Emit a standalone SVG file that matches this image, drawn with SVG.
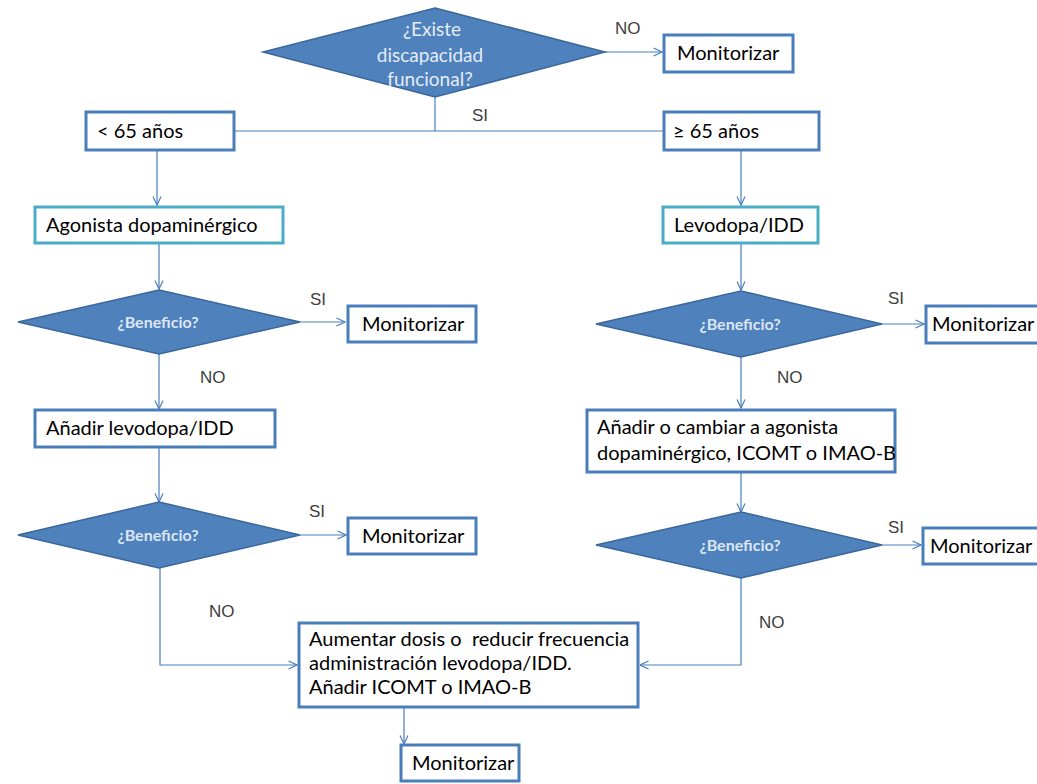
<svg xmlns="http://www.w3.org/2000/svg" width="1037" height="784" viewBox="0 0 1037 784">
  <style>
    .box { fill: #ffffff; stroke: #4a7ebb; stroke-width: 3; }
    .tbox { fill: #ffffff; stroke: #4bacc6; stroke-width: 3; }
    .dia { fill: #4f81bd; stroke: #3a679c; stroke-width: 1.5; }
    .t { font-family: Lato, "Open Sans", sans-serif; font-size: 20px; fill: #000; }
    .dt { font-family: Lato, "Open Sans", sans-serif; font-size: 16px; font-weight: bold; fill: #dce6f2; text-anchor: middle; }
    .dt2 { font-family: Lato, "Open Sans", sans-serif; font-size: 19px; fill: #e4ecf7; text-anchor: middle; }
    .lab { font-family: "Liberation Sans", Arial, sans-serif; font-size: 17px; fill: #404040; }
    .c { fill: none; stroke: #4a7ebb; stroke-width: 1.2; }
  </style>
  <defs>
    <marker id="arr" viewBox="0 0 10 10" refX="9.5" refY="5" markerWidth="10" markerHeight="10" markerUnits="userSpaceOnUse" orient="auto">
      <path d="M1,1 L9.5,5 L1,9" fill="none" stroke="#4a7ebb" stroke-width="1.2"/>
    </marker>
  </defs>
  <rect width="1037" height="784" fill="#ffffff"/>

  <g id="connectors">
    <path class="c" d="M605,52 H662" marker-end="url(#arr)"/>
    <path class="c" d="M435,97 V131"/>
    <path class="c" d="M235,131 H663"/>
    <path class="c" d="M157,150 V205" marker-end="url(#arr)"/>
    <path class="c" d="M741,150 V205" marker-end="url(#arr)"/>
    <path class="c" d="M159,244 V289" marker-end="url(#arr)"/>
    <path class="c" d="M741,244 V290" marker-end="url(#arr)"/>
    <path class="c" d="M300,322 H345" marker-end="url(#arr)"/>
    <path class="c" d="M882,324 H924" marker-end="url(#arr)"/>
    <path class="c" d="M159,354 V409" marker-end="url(#arr)"/>
    <path class="c" d="M741,357 V408" marker-end="url(#arr)"/>
    <path class="c" d="M159,447 V502" marker-end="url(#arr)"/>
    <path class="c" d="M741,473 V512" marker-end="url(#arr)"/>
    <path class="c" d="M300,535 H346" marker-end="url(#arr)"/>
    <path class="c" d="M882,545 H921" marker-end="url(#arr)"/>
    <path class="c" d="M160,568 V665 H297" marker-end="url(#arr)"/>
    <path class="c" d="M741,578 V665 H640" marker-end="url(#arr)"/>
    <path class="c" d="M404,708 V744" marker-end="url(#arr)"/>
  </g>

  <g id="labels">
    <text class="lab" x="615" y="34">NO</text>
    <text class="lab" x="472" y="121">SI</text>
    <text class="lab" x="310" y="305">SI</text>
    <text class="lab" x="200" y="383">NO</text>
    <text class="lab" x="309" y="517">SI</text>
    <text class="lab" x="209" y="617">NO</text>
    <text class="lab" x="888" y="304">SI</text>
    <text class="lab" x="777" y="383">NO</text>
    <text class="lab" x="888" y="533">SI</text>
    <text class="lab" x="759" y="628">NO</text>
  </g>

  <g id="q-discapacidad">
    <polygon class="dia" points="435,8 605,52 435,97 263,52"/>
    <text class="dt2" x="432" y="36">¿Existe</text>
    <text class="dt2" x="430" y="62">discapacidad</text>
    <text class="dt2" x="430" y="86">funcional?</text>
  </g>
  <g id="mon-top">
    <rect class="box" x="664" y="35" width="129" height="37"/>
    <text class="t" x="677" y="60">Monitorizar</text>
  </g>

  <g id="menor65">
    <rect class="box" x="86" y="112" width="148" height="38"/>
    <text class="t" x="97" y="138">&lt; 65 años</text>
  </g>
  <g id="mayor65">
    <rect class="box" x="664" y="112" width="155" height="38"/>
    <text class="t" x="673" y="138">≥ 65 años</text>
  </g>

  <g id="agonista">
    <rect class="tbox" x="35" y="207" width="248" height="36"/>
    <text class="t" x="46" y="232">Agonista dopaminérgico</text>
  </g>
  <g id="levodopa">
    <rect class="tbox" x="663" y="207" width="155" height="36"/>
    <text class="t" x="674" y="232">Levodopa/IDD</text>
  </g>

  <g id="q-beneficio-1">
    <polygon class="dia" points="159,290 300,322 159,354 18,322"/>
    <text class="dt" x="158" y="328">¿Beneficio?</text>
  </g>
  <g id="mon-1">
    <rect class="box" x="348" y="306" width="128" height="36"/>
    <text class="t" x="362" y="331">Monitorizar</text>
  </g>

  <g id="q-beneficio-3">
    <polygon class="dia" points="741,291 882,324 741,357 596,324"/>
    <text class="dt" x="740" y="330">¿Beneficio?</text>
  </g>
  <g id="mon-3">
    <rect class="box" x="926" y="306" width="114" height="37"/>
    <text class="t" x="932" y="331">Monitorizar</text>
  </g>

  <g id="anadir-levodopa">
    <rect class="box" x="35" y="410" width="240" height="37"/>
    <text class="t" x="46" y="435">Añadir levodopa/IDD</text>
  </g>
  <g id="anadir-cambiar">
    <rect class="box" x="587" y="410" width="308" height="62"/>
    <text class="t" x="597" y="434">Añadir o cambiar a agonista</text>
    <text class="t" x="597" y="460">dopaminérgico, ICOMT o IMAO-B</text>
  </g>

  <g id="q-beneficio-2">
    <polygon class="dia" points="159,502 300,535 159,568 18,535"/>
    <text class="dt" x="158" y="541">¿Beneficio?</text>
  </g>
  <g id="mon-2">
    <rect class="box" x="348" y="518" width="128" height="36"/>
    <text class="t" x="362" y="543">Monitorizar</text>
  </g>

  <g id="q-beneficio-4">
    <polygon class="dia" points="741,512 882,545 741,578 596,545"/>
    <text class="dt" x="740" y="551">¿Beneficio?</text>
  </g>
  <g id="mon-4">
    <rect class="box" x="923" y="528" width="117" height="36"/>
    <text class="t" x="930" y="553">Monitorizar</text>
  </g>

  <g id="ajuste">
    <rect class="box" x="299" y="623" width="339" height="84"/>
    <text class="t" x="309" y="646" xml:space="preserve">Aumentar dosis o  reducir frecuencia</text>
    <text class="t" x="309" y="670">administración levodopa/IDD.</text>
    <text class="t" x="309" y="694">Añadir ICOMT o IMAO-B</text>
  </g>
  <g id="mon-final">
    <rect class="box" x="401" y="745" width="118" height="36"/>
    <text class="t" x="412" y="770">Monitorizar</text>
  </g>
</svg>
